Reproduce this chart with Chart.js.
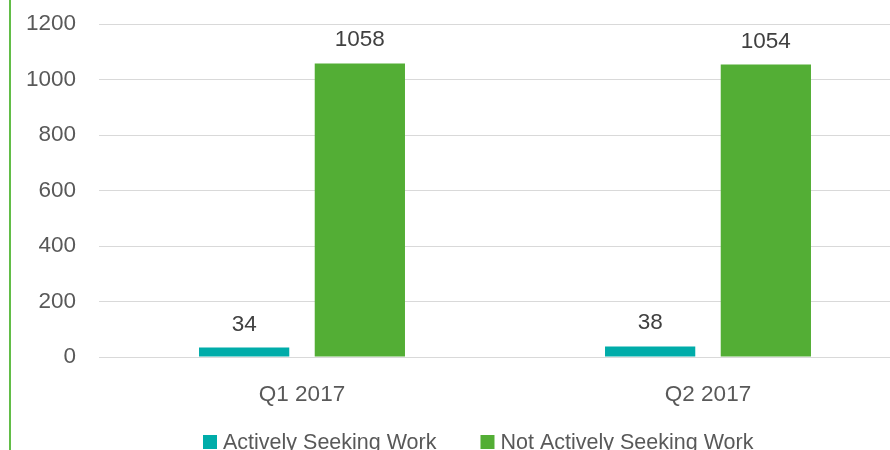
<!DOCTYPE html>
<html>
<head>
<meta charset="utf-8">
<script src="https://cdn.jsdelivr.net/npm/chart.js@4/dist/chart.umd.min.js"></script>
<style>
    html, body { margin: 0; padding: 0; overflow: hidden; background: #fff; }
    #wrap { width: 890px; height: 450px; overflow: hidden; position: relative; }
</style>
</head>
<body>
<div id="wrap"><canvas id="chart" width="912" height="450"></canvas></div>
<script>
// 数据
const categories = ['Q1 2017', 'Q2 2017'];
const activelySeeking = [34, 38];
const notActivelySeeking = [1058, 1054];
const seriesNames = ['Actively Seeking Work', 'Not Actively Seeking Work'];
const yTicks = [0, 200, 400, 600, 800, 1000, 1200];

const FONT = '"Liberation Sans", Arial, sans-serif';
Chart.defaults.font.family = FONT;
Chart.defaults.font.size = 22.5;

// 柱顶数值
const valueLabels = {
    id: 'valueLabels',
    afterDatasetsDraw(chart) {
        const ctx = chart.ctx;
        ctx.save();
        ctx.fillStyle = '#404040';
        ctx.font = '22.5px ' + FONT;
        ctx.textAlign = 'center';
        ctx.textBaseline = 'alphabetic';
        chart.data.datasets.forEach((ds, i) => {
            chart.getDatasetMeta(i).data.forEach((bar, j) => {
                ctx.fillText(ds.data[j], bar.x, bar.y - 17);
            });
        });
        ctx.restore();
    }
};

// 左侧绿线 + 底部图例
const decorations = {
    id: 'decorations',
    afterDraw(chart) {
        const ctx = chart.ctx;
        ctx.save();
        ctx.fillStyle = '#62BD47';
        ctx.fillRect(9, 0, 2, chart.height);

        ctx.font = '21.5px ' + FONT;
        ctx.textBaseline = 'alphabetic';
        let x = 203;
        chart.data.datasets.forEach(ds => {
            ctx.fillStyle = ds.backgroundColor;
            ctx.fillRect(x, 435, 14, 14);
            ctx.fillStyle = '#595959';
            ctx.fillText(ds.label, x + 20, 449);
            x += 20 + ctx.measureText(ds.label).width + 44;
        });
        ctx.restore();
    }
};

new Chart(document.getElementById('chart').getContext('2d'), {
    type: 'bar',
    data: {
        labels: categories,
        datasets: [
            { label: seriesNames[0], data: activelySeeking, backgroundColor: '#00ACA9' },
            { label: seriesNames[1], data: notActivelySeeking, backgroundColor: '#53AE35' }
        ]
    },
    options: {
        responsive: false,
        animation: false,
        categoryPercentage: 0.57,
        barPercentage: 0.78,
        layout: { padding: { top: 24, right: 1, left: 0, bottom: 0 } },
        plugins: {
            legend: { display: false },
            tooltip: { enabled: false }
        },
        scales: {
            x: {
                grid: { display: false },
                border: { display: false },
                ticks: { color: '#595959', padding: 16 },
                afterFit: s => { s.height = 93; s.paddingLeft = 0; s.paddingRight = 0; }
            },
            y: {
                min: 0,
                max: 1200,
                afterBuildTicks: s => { s.ticks = yTicks.map(v => ({ value: v })); },
                grid: { color: '#d9d9d9', lineWidth: 1, drawTicks: false },
                border: { display: false },
                ticks: { color: '#595959', padding: 23, callback: v => String(v) },
                afterFit: s => { s.width = 99; s.paddingTop = 0; s.paddingBottom = 0; }
            }
        }
    },
    plugins: [valueLabels, decorations]
});
</script>
</body>
</html>
